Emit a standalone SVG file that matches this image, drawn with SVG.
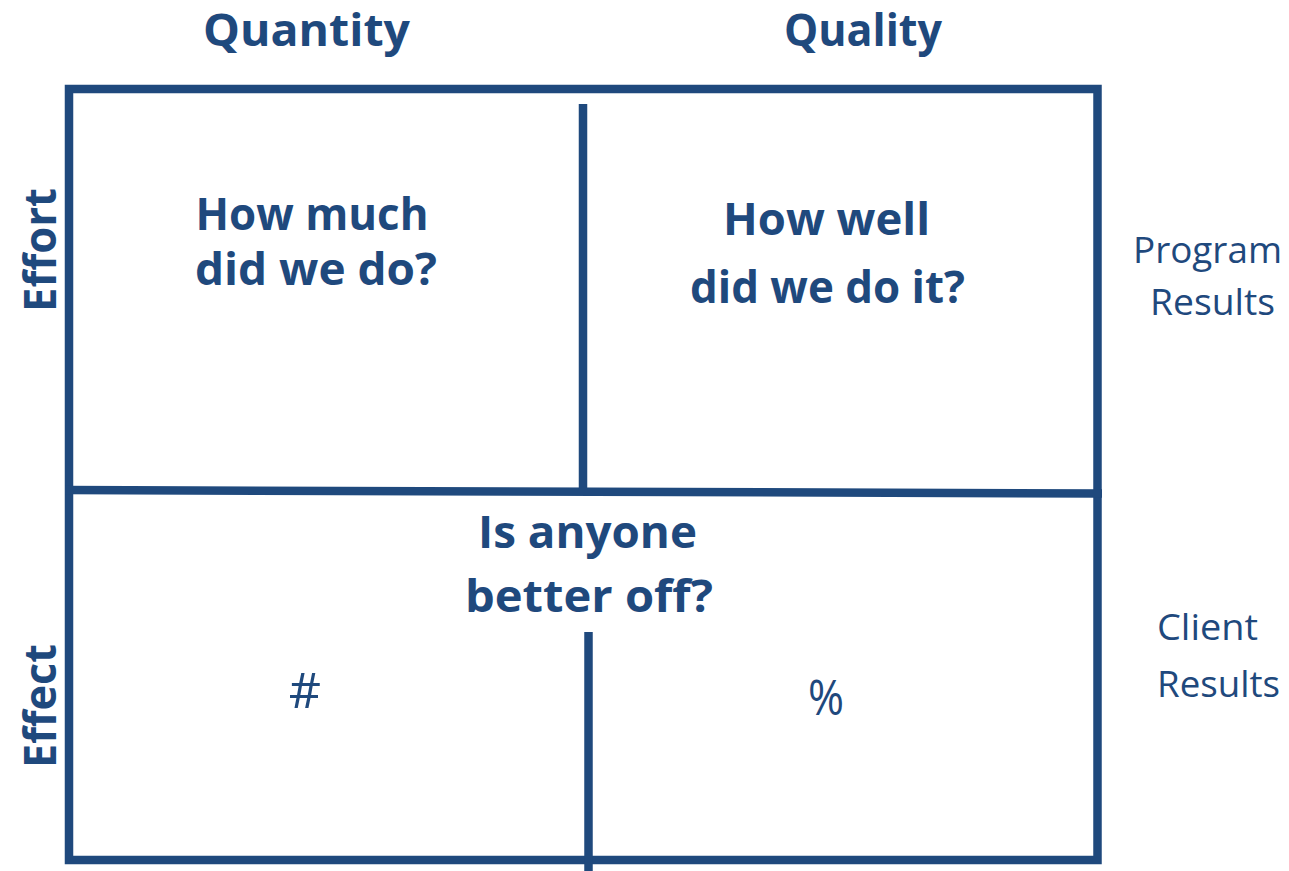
<svg xmlns="http://www.w3.org/2000/svg" width="1289" height="871" viewBox="0 0 1289 871">
<style>
.ln{stroke:#1f497d;stroke-width:8.5;fill:none}
.b{font-family:"Open Sans","Liberation Sans",sans-serif;font-weight:bold;fill:#1f497d;text-anchor:middle}
.r{font-family:"Open Sans","Liberation Sans",sans-serif;fill:#1f497d;text-anchor:middle}
</style>
<rect width="1289" height="871" fill="#ffffff"/>
<g id="connectors">
<rect class="ln" x="69" y="89" width="1028.5" height="771"/>
<line class="ln" x1="65" y1="490" x2="1102" y2="493.5"/>
<line class="ln" x1="583" y1="104" x2="583" y2="490"/>
<line class="ln" x1="588.5" y1="632" x2="588.5" y2="871"/>
</g>
<g id="header-quantity"><text class="b" x="306.5" y="46" font-size="45" textLength="207" lengthAdjust="spacingAndGlyphs">Quantity</text></g>
<g id="header-quality"><text class="b" x="863" y="46" font-size="45" textLength="158" lengthAdjust="spacingAndGlyphs">Quality</text></g>
<g id="label-effort"><text class="b" transform="translate(56,250) rotate(-90)" font-size="45" textLength="124" lengthAdjust="spacingAndGlyphs">Effort</text></g>
<g id="label-effect"><text class="b" transform="translate(56,706) rotate(-90)" font-size="45" textLength="124" lengthAdjust="spacingAndGlyphs">Effect</text></g>
<g id="cell-how-much">
<text class="b" x="312" y="230" font-size="45" textLength="233" lengthAdjust="spacingAndGlyphs">How much</text>
<text class="b" x="316" y="285" font-size="45" textLength="242" lengthAdjust="spacingAndGlyphs">did we do?</text>
</g>
<g id="cell-how-well">
<text class="b" x="826.5" y="235" font-size="45" textLength="207" lengthAdjust="spacingAndGlyphs">How well</text>
<text class="b" x="827.5" y="303" font-size="45" textLength="275" lengthAdjust="spacingAndGlyphs">did we do it?</text>
</g>
<g id="cell-better-off">
<text class="b" x="587.5" y="548" font-size="45" textLength="219" lengthAdjust="spacingAndGlyphs">Is anyone</text>
<text class="b" x="589" y="612" font-size="45" textLength="248" lengthAdjust="spacingAndGlyphs">better off?</text>
</g>
<g id="cell-count"><text class="r" x="305" y="708" font-size="50">#</text></g>
<g id="cell-percent"><text class="r" x="826" y="715" font-size="50" textLength="36" lengthAdjust="spacingAndGlyphs">%</text></g>
<g id="label-program-results">
<text class="r" x="1207.5" y="263" font-size="36" textLength="149" lengthAdjust="spacingAndGlyphs">Program</text>
<text class="r" x="1212.5" y="315" font-size="36" textLength="125" lengthAdjust="spacingAndGlyphs">Results</text>
</g>
<g id="label-client-results">
<text class="r" x="1207.5" y="640" font-size="36" textLength="101" lengthAdjust="spacingAndGlyphs">Client</text>
<text class="r" x="1218.5" y="697" font-size="36" textLength="123" lengthAdjust="spacingAndGlyphs">Results</text>
</g>
</svg>
